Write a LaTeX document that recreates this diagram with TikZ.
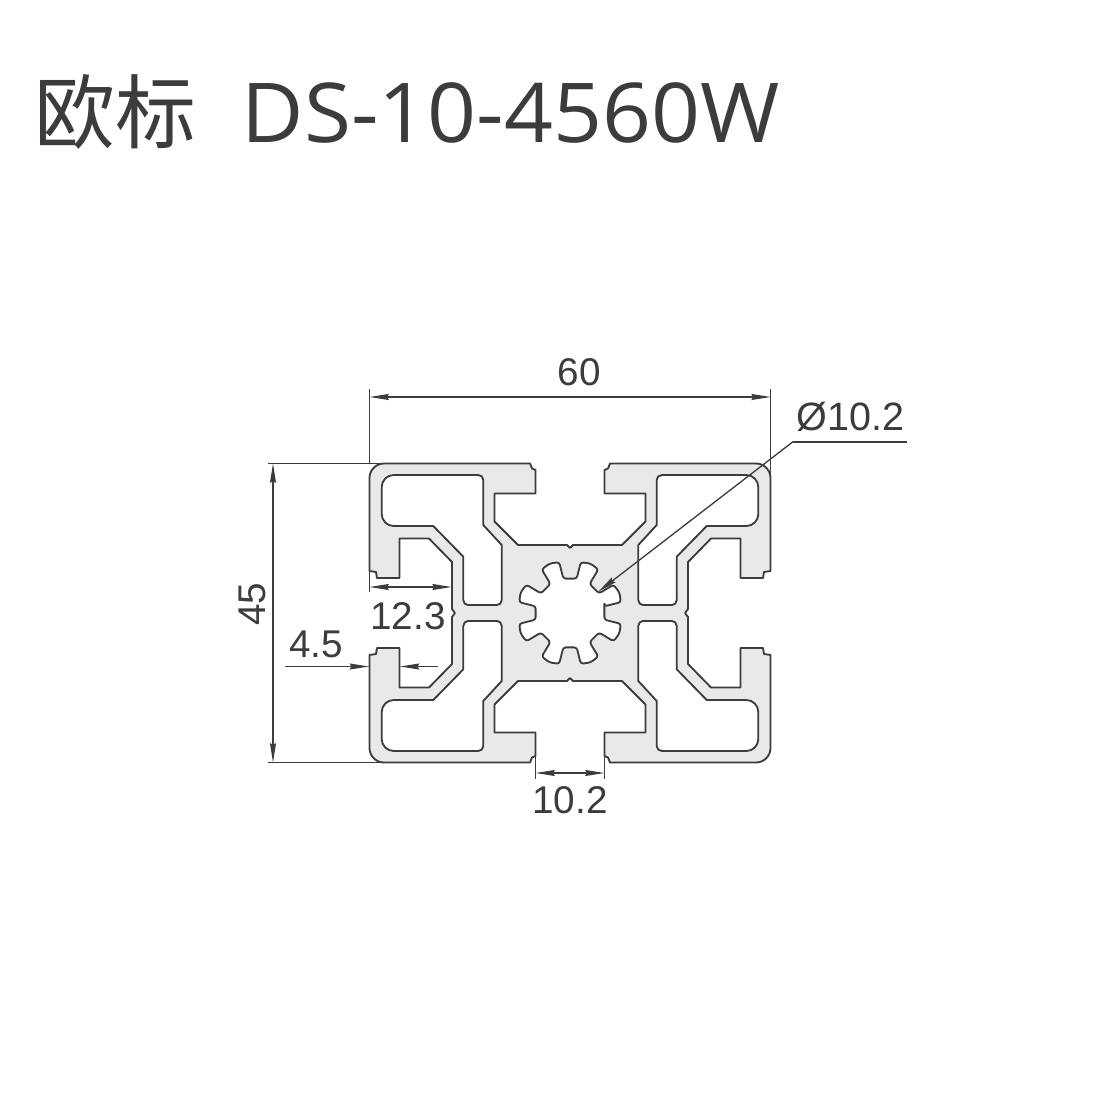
\documentclass[tikz,border=0pt]{standalone}
\usepackage{fontspec}
\setmainfont{Liberation Sans}
\newfontfamily\cjkf{Noto Sans CJK SC}
\newfontfamily\titlef[FakeStretch=1.037]{Open Sans}
\usetikzlibrary{arrows.meta}
\definecolor{ink}{HTML}{3C3C3C}
\definecolor{metal}{HTML}{E9E9E9}
\tikzset{
  outline/.style={draw=ink,line width=1.05pt,line join=round},
  dimline/.style={draw=ink,line width=0.75pt},
  dimarrow/.style={dimline,{Stealth[length=11pt,width=3.4pt,inset=1pt]}-{Stealth[length=11pt,width=3.4pt,inset=1pt]}},
  endarrow/.style={dimline,-{Stealth[length=11pt,width=3.4pt,inset=1pt]}},
  dimtext/.style={text=ink,font=\fontsize{22pt}{24pt}\selectfont,inner sep=0pt},
  titletext/.style={text=ink,inner sep=0pt,anchor=base west}
}
\newcommand{\outerq}{-- (-3,-68) -- (-52,-68) -- (-75.5,-91.5) -- (-75.5,-119.5) -- (-34.5,-119.5) -- (-34.5,-143) -- (-38,-144.5) -- (-40,-149.5) -- (-186,-149.5) .. controls (-194,-149.5) and (-200.5,-143) .. (-200.5,-135) -- (-200.5,-42) -- (-194,-41) -- (-193,-35) -- (-170.5,-35) -- (-170.5,-74.5) -- (-141,-74.5) -- (-118,-51) -- (-118,-4) -- (-115,0)}
\newcommand{\hollowq}{(-176.3,-138) -- (-92,-138) .. controls (-89,-138) and (-86.7,-136) .. (-86.7,-133) -- (-86.7,-88) -- (-68.3,-68) -- (-68.3,-13) .. controls (-68.3,-10) and (-70.5,-8) .. (-73,-8) -- (-102,-8) .. controls (-104.5,-8) and (-106.7,-10) .. (-106.7,-13) -- (-106.7,-56.3) -- (-136.7,-87) -- (-176.3,-87) .. controls (-183,-87) and (-188.3,-92.5) .. (-188.3,-99) -- (-188.3,-126) .. controls (-188.3,-132.5) and (-183,-138) .. (-176.3,-138) -- cycle}
\begin{document}
\begin{tikzpicture}[x=0.02cm,y=-0.02cm]
\useasboundingbox[fill=white] (0,0) rectangle (1110,1111);
% profile quarters
\begin{scope}[shift={(570,613)}]
\foreach \sx/\sy in {1/1,-1/1,1/-1,-1/-1}{
  \begin{scope}[xscale=\sx,yscale=\sy]
    \fill[metal,draw=metal,line width=0.3pt] (0,0) -- (0,-65) \outerq -- cycle;
  \end{scope}
}
\foreach \sx/\sy in {1/1,-1/1,1/-1,-1/-1}{
  \begin{scope}[xscale=\sx,yscale=\sy]
    \draw[outline] (0,-65) \outerq;
    \draw[outline,fill=white] \hollowq;
  \end{scope}
}
% central bore
\draw[outline,fill=white,rounded corners=1.5pt]
  (-11:35)
  \foreach \a in {0,45,...,315}{
    -- ({\a+11}:35) -- ({\a+12}:52) -- ({\a+22.5}:53.5) -- ({\a+33}:52) -- ({\a+34}:35)
  } -- cycle;
\end{scope}
% title
\node[titletext] (title) at (34,143) {\fontsize{46pt}{50pt}\cjkf 欧标\hspace{26pt}\titlef\fontsize{47pt}{50pt}\selectfont DS-10-4560W};
% dimension coordinates
\coordinate (wL) at (369.5,397); \coordinate (wR) at (770.7,397);
\coordinate (wLb) at (369.5,463); \coordinate (wRb) at (770.7,475);
\coordinate (wLt) at (369.5,389); \coordinate (wRt) at (770.7,389);
\coordinate (hT) at (273,463.5); \coordinate (hB) at (273,762.5);
\coordinate (hTl) at (268,463.5); \coordinate (hBl) at (268,762.5);
\coordinate (hTr) at (385,463.5); \coordinate (hBr) at (385,762.5);
\coordinate (sL) at (369.5,587); \coordinate (sR) at (451.7,587);
\coordinate (sLb) at (369.5,592); \coordinate (sLt) at (369.5,571);
\coordinate (aL) at (285,666.5); \coordinate (aLt) at (369,666.5);
\coordinate (aR) at (438,666.5); \coordinate (aRt) at (400,666.5);
\coordinate (bL) at (535.5,773); \coordinate (bR) at (604.5,773);
\coordinate (bLt) at (535.5,757); \coordinate (bRt) at (604.5,757);
\coordinate (bLb) at (535.5,779); \coordinate (bRb) at (604.5,779);
\coordinate (lTip) at (598.3,591.7); \coordinate (lKnee) at (793,441.7); \coordinate (lEnd) at (907,441.7);
% labels
\node[dimtext] (n60) at (579,372) {60};
\node[dimtext,rotate=90] (n45) at (252,604) {45};
\node[dimtext] (n123) at (408,616) {12.3};
\node[dimtext] (n45b) at (316,644) {4.5};
\node[dimtext] (n102) at (570,800) {10.2};
\node[dimtext,font=\fontsize{22.5pt}{24pt}\selectfont] (nd) at (850.5,417) {Ø10.2};
% dimensions
\draw[dimarrow] (wL) -- (wR);
\draw[dimline] (wLt) -- (wLb);
\draw[dimline] (wRt) -- (wRb);
\draw[dimarrow] (hT) -- (hB);
\draw[dimline] (hTl) -- (hTr);
\draw[dimline] (hBl) -- (hBr);
\draw[dimarrow] (sL) -- (sR);
\draw[dimline] (sLt) -- (sLb);
\draw[endarrow] (aL) -- (aLt);
\draw[endarrow] (aR) -- (aRt);
\draw[dimarrow] (bL) -- (bR);
\draw[dimline] (bLt) -- (bLb);
\draw[dimline] (bRt) -- (bRb);
\draw[endarrow] (lKnee) -- (lTip);
\draw[dimline,line width=1pt] (lKnee) -- (lEnd);
\end{tikzpicture}
\end{document}
